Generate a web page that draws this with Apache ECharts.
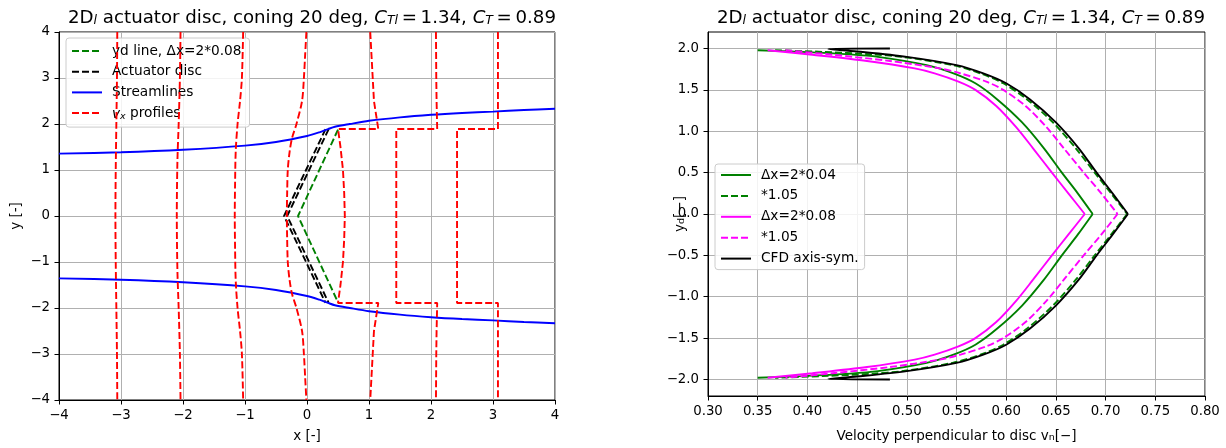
<!DOCTYPE html>
<html><head><meta charset="utf-8">
<script src="https://cdn.jsdelivr.net/npm/echarts@6/dist/echarts.min.js"></script>
<style>html,body{margin:0;padding:0;background:#fff}#c{width:1226px;height:448px}</style>
</head><body><div id="c"></div><script>
// ---------- left panel data (x, y) ----------
const ydLine = [[0.5,1.877],[-0.145,0],[0.5,-1.877]];
const discA = [[0.30,1.89],[-0.37,0],[0.30,-1.89]];
const discB = [[0.35,1.89],[-0.32,0],[0.35,-1.89]];
const streamUpper = [[-4,1.356],[-3,1.385],[-2,1.44],[-1,1.53],[-0.5,1.61],[0,1.74],[0.2,1.82],[0.34,1.89],[0.45,1.94],[0.69,2.0],[1,2.07],[1.5,2.145],[2,2.2],[2.5,2.24],[3,2.27],[3.5,2.305],[4,2.33]];
const streamLower = [[-4,-1.356],[-3,-1.385],[-2,-1.44],[-1,-1.53],[-0.5,-1.61],[0,-1.74],[0.2,-1.82],[0.34,-1.89],[0.45,-1.94],[0.69,-2.0],[1,-2.07],[1.5,-2.145],[2,-2.2],[2.5,-2.24],[3,-2.27],[3.5,-2.305],[4,-2.33]];
const profM3 = [[-3.06,4],[-3.065,3],[-3.075,2],[-3.085,1],[-3.09,0],[-3.085,-1],[-3.075,-2],[-3.065,-3],[-3.06,-4]];
const profM2 = [[-2.04,4],[-2.05,3],[-2.07,2],[-2.09,1.2],[-2.1,0],[-2.09,-1.2],[-2.07,-2],[-2.05,-3],[-2.04,-4]];
const profM1 = [[-1.03,4],[-1.05,3],[-1.08,2.5],[-1.12,2],[-1.15,1.4],[-1.16,0.7],[-1.165,0],[-1.16,-0.7],[-1.15,-1.4],[-1.12,-2],[-1.08,-2.5],[-1.05,-3],[-1.03,-4]];
const prof0 = [[-0.01,4],[-0.03,3.5],[-0.05,3],[-0.08,2.5],[-0.17,2],[-0.24,1.7],[-0.28,1.4],[-0.31,1],[-0.32,0.5],[-0.325,0],[-0.32,-0.5],[-0.31,-1],[-0.28,-1.4],[-0.24,-1.7],[-0.17,-2],[-0.08,-2.5],[-0.05,-3],[-0.03,-3.5],[-0.01,-4]];
const prof1 = [[1.02,4],[1.04,3.5],[1.06,3],[1.08,2.5],[1.15,1.89],[0.5,1.89],[0.54,1.5],[0.58,1.0],[0.6,0.5],[0.61,0],[0.6,-0.5],[0.58,-1.0],[0.54,-1.5],[0.5,-1.89],[1.15,-1.89],[1.08,-2.5],[1.06,-3],[1.04,-3.5],[1.02,-4]];
const prof2 = [[2.08,4],[2.085,3],[2.09,2.5],[2.1,1.89],[1.44,1.89],[1.44,0],[1.44,-1.89],[2.1,-1.89],[2.09,-2.5],[2.085,-3],[2.08,-4]];
const prof3 = [[3.08,4],[3.08,1.89],[2.42,1.89],[2.42,-1.89],[3.08,-1.89],[3.08,-4]];

// ---------- right panel data (v_n, y_d) ----------
const green04 = [[0.35,1.98],[0.395,1.96],[0.443,1.93],[0.471,1.90],[0.520,1.80],[0.547,1.70],[0.569,1.58],[0.591,1.385],[0.616,1.107],[0.638,0.794],[0.656,0.5],[0.672,0.25],[0.687,0],[0.672,-0.25],[0.656,-0.5],[0.638,-0.794],[0.616,-1.107],[0.591,-1.385],[0.569,-1.58],[0.547,-1.70],[0.520,-1.80],[0.471,-1.90],[0.443,-1.93],[0.395,-1.96],[0.35,-1.98]];
const green105 = [[0.3675,1.98],[0.415,1.96],[0.465,1.93],[0.495,1.90],[0.546,1.80],[0.574,1.70],[0.597,1.58],[0.621,1.385],[0.647,1.107],[0.670,0.794],[0.689,0.5],[0.7055,0.25],[0.7216,0],[0.7055,-0.25],[0.689,-0.5],[0.670,-0.794],[0.647,-1.107],[0.621,-1.385],[0.597,-1.58],[0.574,-1.70],[0.546,-1.80],[0.495,-1.90],[0.465,-1.93],[0.415,-1.96],[0.3675,-1.98]];
const magenta08 = [[0.36,1.98],[0.405,1.925],[0.46,1.85],[0.508,1.76],[0.528,1.70],[0.552,1.60],[0.569,1.50],[0.590,1.306],[0.610,1.05],[0.627,0.794],[0.646,0.5],[0.6625,0.25],[0.679,0],[0.6625,-0.25],[0.646,-0.5],[0.627,-0.794],[0.610,-1.05],[0.590,-1.306],[0.569,-1.50],[0.552,-1.60],[0.528,-1.70],[0.508,-1.76],[0.46,-1.85],[0.405,-1.925],[0.36,-1.98]];
const magenta105 = [[0.378,1.98],[0.425,1.925],[0.483,1.85],[0.533,1.76],[0.554,1.70],[0.580,1.60],[0.597,1.50],[0.6195,1.306],[0.6405,1.05],[0.658,0.794],[0.678,0.5],[0.6956,0.25],[0.712,0],[0.6956,-0.25],[0.678,-0.5],[0.658,-0.794],[0.6405,-1.05],[0.6195,-1.306],[0.597,-1.50],[0.580,-1.60],[0.554,-1.70],[0.533,-1.76],[0.483,-1.85],[0.425,-1.925],[0.378,-1.98]];
const cfd = [[0.483,2.0],[0.421,1.995],[0.45,1.965],[0.50,1.90],[0.55,1.80],[0.577,1.70],[0.60,1.58],[0.624,1.385],[0.65,1.107],[0.673,0.794],[0.691,0.5],[0.707,0.25],[0.7225,0],[0.707,-0.25],[0.691,-0.5],[0.673,-0.794],[0.65,-1.107],[0.624,-1.385],[0.60,-1.58],[0.577,-1.70],[0.55,-1.80],[0.50,-1.90],[0.45,-1.965],[0.421,-1.995],[0.483,-2.0]];

const rightYTicks = [-2,-1.5,-1,-0.5,0,0.5,1,1.5,2];

// ---------- helpers ----------
const FONT = 'DejaVu Sans';
const DASH = [7, 3];
const LW = 1.9;
const minus = s => s.replace('-', '\u2212');

function ln(name, data, color, dashed, idx, z) {
  return {
    type: 'line', name, data, xAxisIndex: idx, yAxisIndex: idx,
    symbol: 'none', showSymbol: false, silent: true, animation: false, z: z || 2,
    lineStyle: { color, width: LW, type: dashed ? DASH : 'solid' },
    itemStyle: { color }
  };
}
function smoothHalves(name, data, color, dashed, z) {
  let k = 0;
  data.forEach((p, i) => { if (Math.abs(p[1]) < 1e-9) k = i; });
  const a = ln(name, data.slice(0, k + 1), color, dashed, 1, z);
  const b = ln(name, data.slice(k), color, dashed, 1, z);
  a.smooth = 0.3; b.smooth = 0.3;
  return [a, b];
}

const titleText = '{n|2D}{s|l}{n| actuator disc, coning 20 deg, }{i|C}{s|Tl}{n|\u2009=\u20091.34, }{i|C}{s|T}{n|\u2009=\u20090.89}';
const titleRich = {
  n: { fontFamily: FONT, fontSize: 18.2, fontWeight: 'normal', color: '#000', lineHeight: 24, verticalAlign: 'bottom' },
  i: { fontFamily: FONT, fontSize: 18.2, fontWeight: 'normal', fontStyle: 'italic', color: '#000', lineHeight: 24, verticalAlign: 'bottom' },
  s: { fontFamily: FONT, fontSize: 12.5, fontWeight: 'normal', fontStyle: 'italic', color: '#000', lineHeight: 13, verticalAlign: 'bottom' }
};

const labelsLeft = {
  ydl: 'yd line, \u0394x=2*0.08', ad: 'Actuator disc', sl: 'Streamlines', vx: '{i|v}{s|x} profiles'
};
const labelsRight = {
  g04: '\u0394x=2*0.04', g105: '*1.05', m08: '\u0394x=2*0.08', m105: '*1.05', cfd: 'CFD axis-sym.'
};

const axisCommon = {
  axisLine: { show: true, onZero: false, lineStyle: { color: '#000', width: 1 } },
  axisTick: { show: true, inside: false, length: 4.5, lineStyle: { color: '#000', width: 1 } },
  axisLabel: { color: '#000', fontFamily: FONT, fontSize: 13.3, margin: 9 },
  splitLine: { show: true, lineStyle: { color: '#b0b0b0', width: 1 } },
  nameTextStyle: { color: '#000', fontFamily: FONT, fontSize: 13.5 },
  nameMoveOverlap: false
};
const nameRich = {
  n: { fontFamily: FONT, fontSize: 13.5, color: '#000', lineHeight: 18, verticalAlign: 'bottom' },
  s: { fontFamily: FONT, fontSize: 9.5, color: '#000', lineHeight: 10, verticalAlign: 'bottom' }
};

const series = [
  ln('ydl', ydLine, '#008000', true, 0, 2),
  ln('ad', discA, '#000', true, 0, 3),
  ln('ad', discB, '#000', true, 0, 3),
  ln('sl', streamUpper, '#0000ff', false, 0, 4),
  ln('sl', streamLower, '#0000ff', false, 0, 4),
  ...[profM3, profM2, profM1, prof0, prof1, prof2, prof3].map(p => ln('vx', p, '#ff0000', true, 0, 5)),
  ...smoothHalves('g04', green04, '#008000', false, 2),
  ...smoothHalves('g105', green105, '#008000', true, 3),
  ...smoothHalves('m08', magenta08, '#ff00ff', false, 4),
  ...smoothHalves('m105', magenta105, '#ff00ff', true, 5),
  ...smoothHalves('cfd', cfd, '#000000', false, 6)
];
series.forEach(s => {
  if (s.name === 'sl') s.smooth = 0.3;
  if (s.name === 'vx' && (s.data === profM3 || s.data === profM2 || s.data === profM1 || s.data === prof0)) s.smooth = 0.3;
});

const legendBase = {
  orient: 'vertical', itemWidth: 30, itemHeight: 14,
  backgroundColor: 'rgba(255,255,255,0.85)', borderColor: '#cccccc', borderWidth: 1, borderRadius: 3,
  selectedMode: false, itemStyle: { opacity: 0 }
};

const option = {
  backgroundColor: '#fff',
  animation: false,
  title: [
    { text: titleText, left: 307, top: -2, textAlign: 'center', textStyle: { fontWeight: 'normal', rich: titleRich } },
    { text: titleText, left: 956, top: -2, textAlign: 'center', textStyle: { fontWeight: 'normal', rich: titleRich } }
  ],
  grid: [
    { left: 59, top: 32, width: 496, height: 370, show: true, borderColor: '#000', borderWidth: 1, backgroundColor: '#fff' },
    { left: 708, top: 32, width: 497, height: 370, show: true, borderColor: '#000', borderWidth: 1, backgroundColor: '#fff' }
  ],
  xAxis: [
    Object.assign({}, axisCommon, {
      type: 'value', gridIndex: 0, min: -4, max: 4, interval: 1,
      name: 'x [-]', nameLocation: 'middle', nameGap: 29,
      axisLabel: Object.assign({}, axisCommon.axisLabel, { formatter: v => minus(String(v)) })
    }),
    Object.assign({}, axisCommon, {
      type: 'value', gridIndex: 1, min: 0.3, max: 0.8, interval: 0.05,
      name: '{n|Velocity perpendicular to disc v}{s|n}{n|[\u2212]}', nameLocation: 'middle', nameGap: 29,
      nameTextStyle: Object.assign({}, axisCommon.nameTextStyle, { rich: nameRich }),
      axisLabel: Object.assign({}, axisCommon.axisLabel, { formatter: v => v.toFixed(2) })
    })
  ],
  yAxis: [
    Object.assign({}, axisCommon, {
      type: 'value', gridIndex: 0, min: -4, max: 4, interval: 1,
      name: 'y [-]', nameLocation: 'middle', nameGap: 36, nameRotate: 90,
      axisLabel: Object.assign({}, axisCommon.axisLabel, { formatter: v => minus(String(v)) })
    }),
    Object.assign({}, axisCommon, {
      type: 'value', gridIndex: 1, min: -2.2, max: 2.2,
      name: '{n|y}{s|d}{n|[\u2212]}', nameLocation: 'middle', nameGap: 21, nameRotate: 90,
      nameTextStyle: Object.assign({}, axisCommon.nameTextStyle, { rich: nameRich }),
      axisTick: Object.assign({}, axisCommon.axisTick, { customValues: rightYTicks }),
      axisLabel: Object.assign({}, axisCommon.axisLabel, { customValues: rightYTicks, formatter: v => minus(v.toFixed(1)) })
    })
  ],
  legend: [
    Object.assign({}, legendBase, {
      data: ['ydl', 'ad', 'sl', 'vx'], left: 66, top: 38, itemGap: 6.7, padding: [6, 8, 6, 5],
      formatter: n => labelsLeft[n],
      textStyle: { color: '#000', fontFamily: FONT, fontSize: 13.7, padding: [0, 0, 0, 5],
        rich: { i: { fontFamily: FONT, fontSize: 13.7, fontStyle: 'italic', color: '#000', lineHeight: 16, verticalAlign: 'bottom' },
                s: { fontFamily: FONT, fontSize: 9.5, fontStyle: 'italic', color: '#000', lineHeight: 10, verticalAlign: 'bottom' } } }
    }),
    Object.assign({}, legendBase, {
      data: ['g04', 'g105', 'm08', 'm105', 'cfd'], left: 715, top: 164, itemGap: 6.9, padding: [4, 6, 4, 5],
      formatter: n => labelsRight[n],
      textStyle: { color: '#000', fontFamily: FONT, fontSize: 13.7, padding: [0, 0, 0, 5] }
    })
  ],
  series
};

const chart = echarts.init(document.getElementById('c'), null, { renderer: 'canvas' });
chart.setOption(option);
</script></body></html>
